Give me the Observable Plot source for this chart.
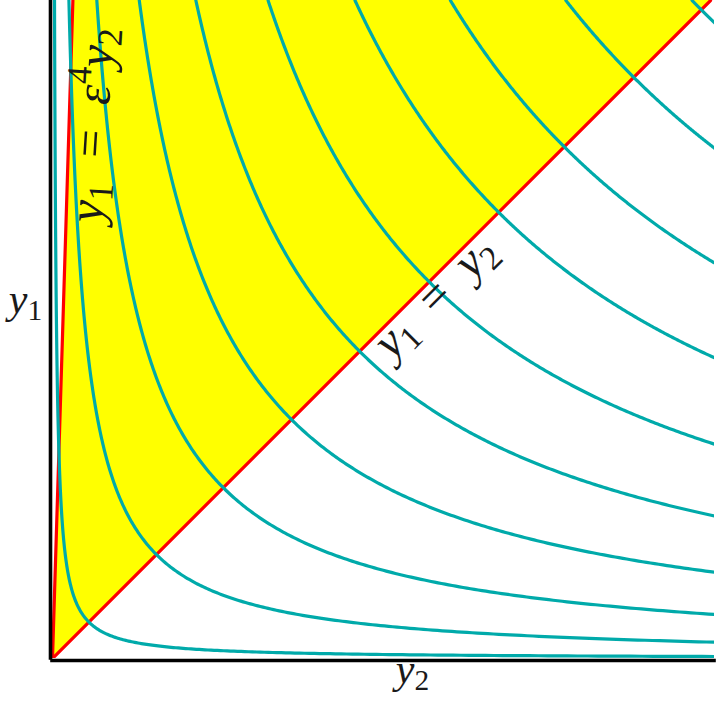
<!DOCTYPE html>
<html>
<head>
<meta charset="utf-8">
<script src="https://cdn.jsdelivr.net/npm/d3@7"></script>
<script src="https://cdn.jsdelivr.net/npm/@observablehq/plot@0.6"></script>
<style>
  html, body { margin: 0; padding: 0; background: #fff; }
  #chart svg { display: block; }
</style>
</head>
<body>
<div id="chart"></div>
<script>
// ---- data ----
// axis extents (same units on both axes)
const xMax = 10;
const yMax = 9.94;
// value of y1 = y2 where each level curve y1*y2 = const crosses the diagonal
const levels = [0.55, 1.57, 2.58, 3.61, 4.64, 5.69, 6.74, 7.73, 8.78, 9.80];
// slope of the steep boundary line (y2 = eps4 * y1)
const eps4 = 0.031;
// label texts (parts: [string, style])
const labelY1 = [["y", "i"], ["1", "sub"]];
const labelY2 = [["y", "i"], ["2", "sub"]];
const labelDiag = [["y", "i"], ["1", "sub"], ["\u2002=\u2002", "r"], ["y", "i"], ["2", "sub"]];
const labelSteep = [["y", "i"], ["1", "sub"], ["\u2002=\u2002", "r"], ["\u03b5", "i"], ["4", "sup"], ["y", "i"], ["2", "sub"]];

// ---- level curves y1*y2 = c (c = level^2) ----
const curvePts = [];
for (const s of levels) {
  const c = s * s;
  const x0 = c / yMax;
  const n = 300;
  for (let i = 0; i <= n; i++) {
    const x = x0 * Math.pow(xMax / x0, i / n);
    curvePts.push({level: s, x, y: c / x});
  }
}
const band = [0, yMax];

const teal = "#00aaaa";
const red = "#ff0000";
const FS_AXIS = 42, FS_DIAG = 48, FS_STEEP = 50;

const chart = Plot.plot({
  width: 717,
  height: 702,
  marginLeft: 52,
  marginRight: 3,
  marginTop: 0,
  marginBottom: 44,
  x: {domain: [0, xMax], axis: null},
  y: {domain: [0, yMax], axis: null},
  style: {background: "#fff", overflow: "visible", fontFamily: "'Liberation Serif', serif"},
  marks: [
    Plot.areaX(band, {y: d => d, x1: d => eps4 * d, x2: d => d, fill: "#ffff00", clip: true}),
    Plot.line(band, {x: d => d, y: d => d, stroke: red, strokeWidth: 3.2, clip: true}),
    Plot.line(band, {x: d => eps4 * d, y: d => d, stroke: red, strokeWidth: 3.2, clip: true}),
    Plot.line(curvePts, {x: "x", y: "y", z: "level", stroke: teal, strokeWidth: 3.2, clip: true}),
    Plot.ruleX([0], {stroke: "#000", strokeWidth: 3.6, dx: -2, y1: 0, y2: yMax, strokeLinecap: "square"}),
    Plot.ruleY([0], {stroke: "#000", strokeWidth: 3.6, dy: 2, x1: 0, x2: xMax, strokeLinecap: "square"}),
    // axis labels
    Plot.text([0], {frameAnchor: "left", text: () => "LBL_Y1", textAnchor: "middle", lineAnchor: "middle", dx: -27, dy: -30, fontSize: FS_AXIS}),
    Plot.text([0], {frameAnchor: "bottom", text: () => "LBL_Y2", textAnchor: "middle", lineAnchor: "middle", dx: 29, dy: 11, fontSize: FS_AXIS}),
    // line labels
    Plot.text([5.62], {x: d => d, y: d => d, text: () => "LBL_DIAG", rotate: -45, dx: 10, dy: 10, fontSize: FS_DIAG, textAnchor: "middle", lineAnchor: "middle"}),
    Plot.text([8.06], {x: d => eps4 * d, y: d => d, text: () => "LBL_STEEP", rotate: -86.5, dx: 23, dy: 0, fontSize: FS_STEEP, textAnchor: "middle", lineAnchor: "middle"})
  ]
});

// rebuild label texts with italic letters and sub/superscripts
function richText(key, parts, fs) {
  d3.select(chart).selectAll("text")
    .filter(function () { return this.textContent === key; })
    .each(function () {
      const t = d3.select(this);
      t.text(null);
      let shift = 0;
      for (const [str, style] of parts) {
        const ts = t.append("tspan").text(str);
        let target = 0;
        if (style === "i") ts.attr("font-style", "italic");
        if (style === "sub") { ts.attr("font-size", "0.7em"); target = 0.17 * fs; }
        if (style === "sup") { ts.attr("font-size", "0.7em"); target = -0.4 * fs; }
        ts.attr("dy", target - shift);
        shift = target;
      }
    });
}
richText("LBL_Y1", labelY1, FS_AXIS);
richText("LBL_Y2", labelY2, FS_AXIS);
richText("LBL_DIAG", labelDiag, FS_DIAG);
richText("LBL_STEEP", labelSteep, FS_STEEP);
d3.select(chart).selectAll("text").attr("fill", "#1a1a1a");

document.getElementById("chart").appendChild(chart);
</script>
</body>
</html>
